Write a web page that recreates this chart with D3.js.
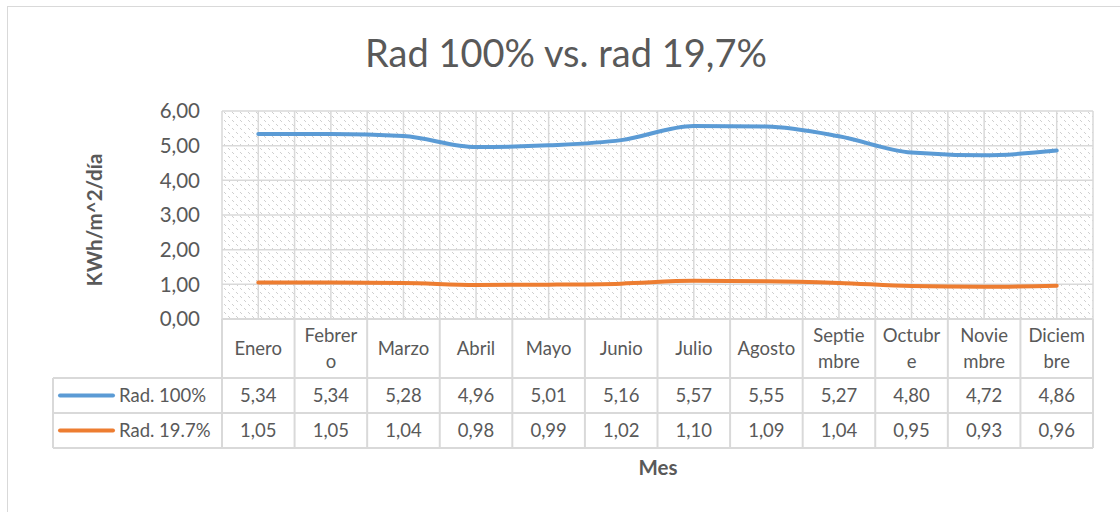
<!DOCTYPE html>
<html lang="es">
<head>
<meta charset="utf-8">
<title>Rad 100% vs. rad 19,7%</title>
<script src="https://d3js.org/d3.v7.min.js"></script>
<style>
  html, body { margin:0; padding:0; overflow:hidden; background:#fff }
  svg { display:block }
  text { font-family: Lato, "Open Sans", sans-serif; fill:#595959 }
</style>
</head>
<body>
<svg></svg>
<script>
// data
var months = ["Enero", "Febrero", "Marzo", "Abril", "Mayo", "Junio",
              "Julio", "Agosto", "Septiembre", "Octubre", "Noviembre", "Diciembre"];
// how the month names wrap in the table header
var monthLines = [["Enero"], ["Febrer", "o"], ["Marzo"], ["Abril"], ["Mayo"], ["Junio"],
                  ["Julio"], ["Agosto"], ["Septie", "mbre"], ["Octubr", "e"], ["Novie", "mbre"], ["Diciem", "bre"]];
var rad100 = [5.34, 5.34, 5.28, 4.96, 5.01, 5.16, 5.57, 5.55, 5.27, 4.80, 4.72, 4.86];
var rad197 = [1.05, 1.05, 1.04, 0.98, 0.99, 1.02, 1.10, 1.09, 1.04, 0.95, 0.93, 0.96];
var seriesNames = ["Rad. 100%", "Rad. 19.7%"];
var yTicks = [0, 1, 2, 3, 4, 5, 6];

var width = 1120, height = 512;
var colors = ["#5b9bd5", "#ed7d31"];
var grid = "#d9d9d9";
var fmt = function(v) { return d3.format(".2f")(v).replace(".", ","); };

var svg = d3.select("svg").attr("width", width).attr("height", height);

// chart frame
svg.append("rect")
   .attr("x", 7.5).attr("y", 6.5).attr("width", width).attr("height", height)
   .attr("fill", "#fff").attr("stroke", grid);

// hatch pattern for the plot area
var pat = svg.append("defs").append("pattern")
   .attr("id", "hatch").attr("patternUnits", "userSpaceOnUse")
   .attr("width", 8).attr("height", 8);
[0, 1, 4, 5].forEach(function(i) {
  pat.append("rect").attr("x", i).attr("y", i).attr("width", 1).attr("height", 1)
     .attr("fill", "#cfcfcf");
});

var x = d3.scaleBand().domain(months).range([222, 1093]);
var y = d3.scaleLinear().domain([0, 6]).range([319, 111]);
var bw = x.bandwidth();

var plot = svg.append("g");
plot.append("rect")
   .attr("x", x.range()[0]).attr("y", y(6))
   .attr("width", x.range()[1] - x.range()[0]).attr("height", y(0) - y(6))
   .attr("fill", "url(#hatch)");

// horizontal gridlines
plot.selectAll(".hg").data(yTicks).enter().append("line")
   .attr("x1", x.range()[0]).attr("x2", x.range()[1])
   .attr("y1", function(d) { return y(d); }).attr("y2", function(d) { return y(d); })
   .attr("stroke", grid).attr("stroke-width", 1.5);

// vertical gridlines at band edges and centres
var vlines = [];
months.forEach(function(m) { vlines.push(x(m)); vlines.push(x(m) + bw / 2); });
vlines.push(x.range()[1]);
plot.selectAll(".vg").data(vlines).enter().append("line")
   .attr("x1", function(d) { return d; }).attr("x2", function(d) { return d; })
   .attr("y1", y(6)).attr("y2", y(0))
   .attr("stroke", grid).attr("stroke-width", 1.5);

// y axis labels
svg.selectAll(".yt").data(yTicks).enter().append("text")
   .attr("x", 200).attr("y", function(d) { return y(d); })
   .attr("dy", "0.35em").attr("text-anchor", "end")
   .attr("font-size", 20.5).text(fmt);

// lines
var line = d3.line()
   .x(function(d, i) { return x(months[i]) + bw / 2; })
   .y(function(d) { return y(d); })
   .curve(d3.curveMonotoneX);
[rad100, rad197].forEach(function(s, k) {
  svg.append("path").datum(s)
     .attr("d", line).attr("fill", "none")
     .attr("stroke", colors[k]).attr("stroke-width", 4)
     .attr("stroke-linecap", "round").attr("stroke-linejoin", "round");
});

// data table
var tbl = svg.append("g");
var rowY = [319, 378, 413, 448];
var legLeft = 53;

// header cells
tbl.selectAll(".hv").data(months.concat(["end"])).enter().append("line")
   .attr("x1", function(d) { return d === "end" ? x.range()[1] : x(d); })
   .attr("x2", function(d) { return d === "end" ? x.range()[1] : x(d); })
   .attr("y1", rowY[0]).attr("y2", rowY[3])
   .attr("stroke", grid).attr("stroke-width", 2);
tbl.append("line").attr("x1", x.range()[0]).attr("x2", x.range()[1])
   .attr("y1", rowY[0]).attr("y2", rowY[0]).attr("stroke", grid).attr("stroke-width", 2);
tbl.selectAll(".hr").data(rowY.slice(1)).enter().append("line")
   .attr("x1", legLeft).attr("x2", x.range()[1])
   .attr("y1", function(d) { return d; }).attr("y2", function(d) { return d; })
   .attr("stroke", grid).attr("stroke-width", 2);
tbl.append("line").attr("x1", legLeft).attr("x2", legLeft)
   .attr("y1", rowY[1]).attr("y2", rowY[3]).attr("stroke", grid).attr("stroke-width", 2);

// month names
monthLines.forEach(function(ls, i) {
  var cy = (rowY[0] + rowY[1]) / 2;
  var t = tbl.append("text")
     .attr("x", x(months[i]) + bw / 2).attr("text-anchor", "middle")
     .attr("font-size", 18.5);
  ls.forEach(function(s, j) {
    t.append("tspan").attr("x", x(months[i]) + bw / 2)
     .attr("y", cy + (j - (ls.length - 1) / 2) * 26).attr("dy", "0.35em").text(s);
  });
});

// series rows
[rad100, rad197].forEach(function(s, k) {
  var cy = (rowY[k + 1] + rowY[k + 2]) / 2;
  tbl.append("line").attr("x1", 60).attr("x2", 113)
     .attr("y1", cy).attr("y2", cy)
     .attr("stroke", colors[k]).attr("stroke-width", 4).attr("stroke-linecap", "round");
  tbl.append("text").attr("x", 119).attr("y", cy).attr("dy", "0.35em")
     .attr("font-size", 18.5).text(seriesNames[k]);
  tbl.selectAll(".v" + k).data(s).enter().append("text")
     .attr("x", function(d, i) { return x(months[i]) + bw / 2; })
     .attr("y", cy).attr("dy", "0.35em").attr("text-anchor", "middle")
     .attr("font-size", 18.5).text(fmt);
});

// titles
svg.append("text").attr("x", 566).attr("y", 67).attr("text-anchor", "middle")
   .attr("font-size", 38).text("Rad 100% vs. rad 19,7%");
svg.append("text").attr("transform", "translate(102,220) rotate(-90)")
   .attr("text-anchor", "middle").attr("font-size", 20.5).attr("font-weight", "bold")
   .text("KWh/m^2/día");
svg.append("text").attr("x", 658).attr("y", 475).attr("text-anchor", "middle")
   .attr("font-size", 20.5).attr("font-weight", "bold").text("Mes");
</script>
</body>
</html>
